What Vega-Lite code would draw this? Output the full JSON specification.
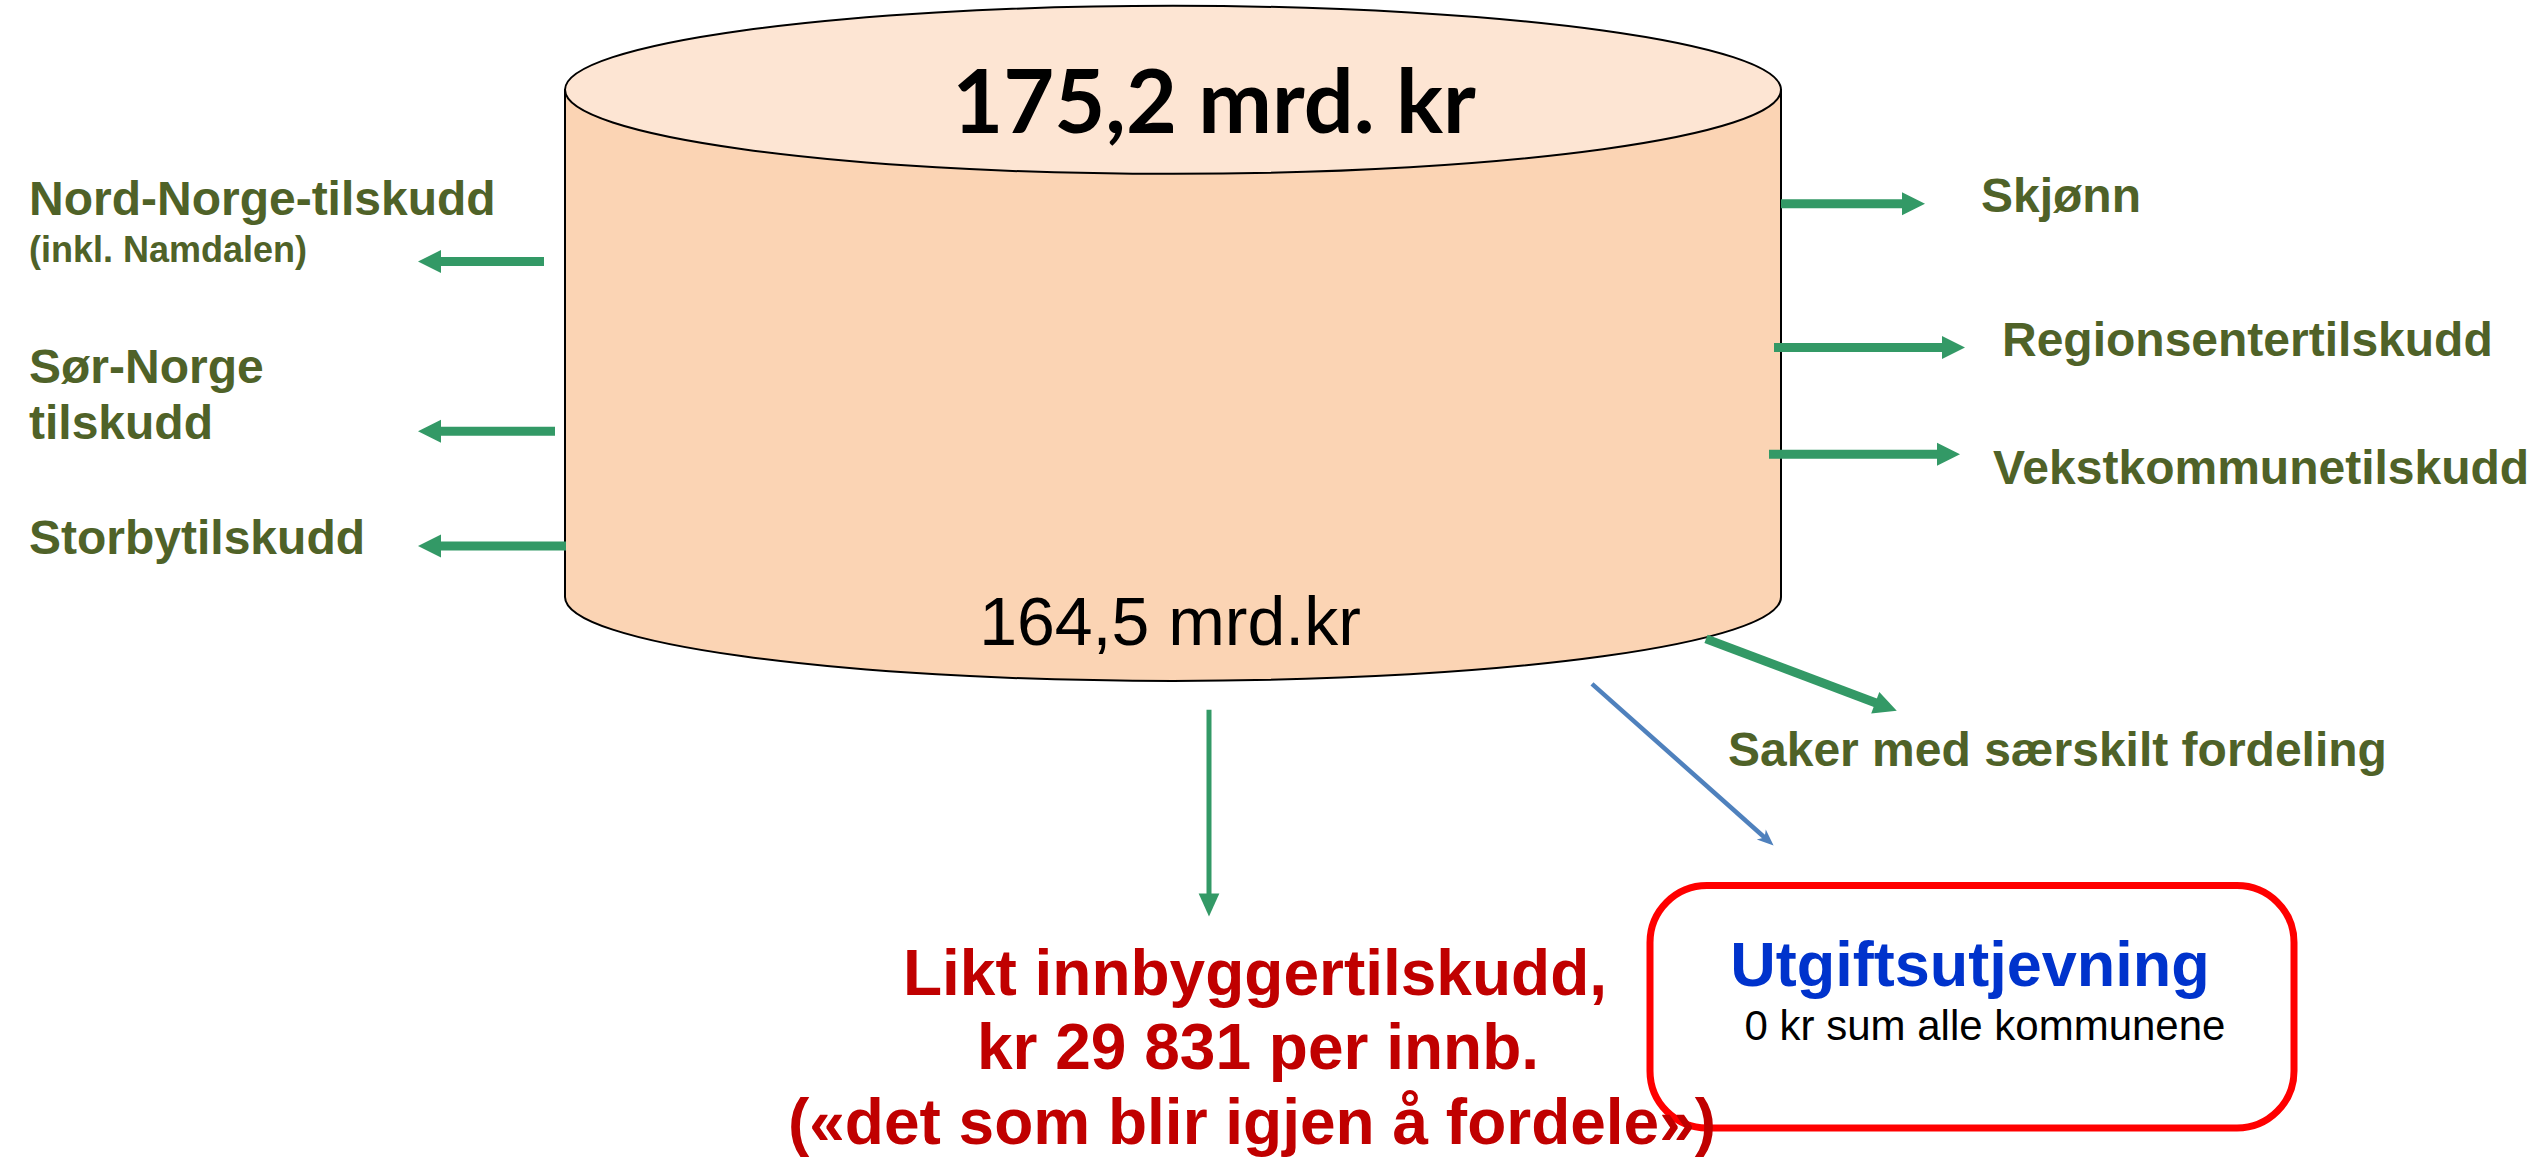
{
  "$schema": "https://vega.github.io/schema/vega-lite/v6.json",
  "width": 2539,
  "height": 1157,
  "autosize": {"type": "fit", "contains": "padding"},
  "padding": 0,
  "background": "white",
  "config": {"view": {"stroke": null}},
  "datasets": {
    "body": [{"x": 1173, "y": 344}],
    "top": [{"x": 1173, "y": 90}],
    "arrowsLeft": [
      {"x": 544, "y": 262, "x2": 429.5, "y2": 262},
      {"x": 555, "y": 432, "x2": 429.5, "y2": 432},
      {"x": 566, "y": 547, "x2": 429.5, "y2": 547}
    ],
    "arrowsRight": [
      {"x": 1781, "y": 204, "x2": 1913.5, "y2": 204},
      {"x": 1774, "y": 348, "x2": 1953.5, "y2": 348},
      {"x": 1769, "y": 455, "x2": 1948.5, "y2": 455}
    ],
    "arrowSaker": [{"x": 1706, "y": 640, "x2": 1886, "y2": 708}],
    "arrowDown": [{"x": 1209, "y": 711, "x2": 1209, "y2": 906.5}],
    "arrowBlue": [{"x": 1592, "y": 685, "x2": 1768, "y2": 842}],
    "box": [{"x": 1650, "y": 887, "x2": 2294, "y2": 1130}],
    "greenLabels": [
      {"x": 29, "y": 215, "label": "Nord-Norge-tilskudd"},
      {"x": 29, "y": 384, "label": "Sør-Norge"},
      {"x": 29, "y": 440, "label": "tilskudd"},
      {"x": 29, "y": 555, "label": "Storbytilskudd"},
      {"x": 1981, "y": 212, "label": "Skjønn"},
      {"x": 2002, "y": 357, "label": "Regionsentertilskudd"},
      {"x": 1993, "y": 485, "label": "Vekstkommunetilskudd"},
      {"x": 1728, "y": 767, "label": "Saker med særskilt fordeling"}
    ],
    "greenSmall": [{"x": 29, "y": 262, "label": "(inkl. Namdalen)"}],
    "redLines": [
      {"x": 1255, "y": 997, "label": "Likt innbyggertilskudd,"},
      {"x": 1258, "y": 1071, "label": "kr 29 831 per innb."},
      {"x": 1252, "y": 1146, "label": "(«det som blir igjen å fordele»)"}
    ],
    "blueTitle": [{"x": 1970, "y": 988, "label": "Utgiftsutjevning"}],
    "blackNote": [{"x": 1985, "y": 1042, "label": "0 kr sum alle kommunene"}],
    "topValue": [{"x": 1214, "y": 133, "label": "175,2 mrd. kr"}],
    "bottomValue": [{"x": 1170, "y": 646, "label": "164,5 mrd.kr"}]
  },
  "encoding": {
    "x": {"field": "x", "type": "quantitative", "scale": {"domain": [0, 2539], "nice": false, "zero": false}, "axis": null},
    "y": {"field": "y", "type": "quantitative", "scale": {"domain": [0, 1157], "nice": false, "zero": false, "reverse": true}, "axis": null}
  },
  "layer": [
    {
      "data": {"name": "body"},
      "mark": {"type": "point", "shape": "M-1,-0.4169L-1,0.4169A1,0.1382 0 0,0 1,0.4169L1,-0.4169Z", "size": 1478656, "filled": true, "fill": "#FBD4B4", "stroke": "#000000", "strokeWidth": 2, "opacity": 1}
    },
    {
      "data": {"name": "top"},
      "mark": {"type": "point", "shape": "M-1,0A1,0.1382 0 1,0 1,0A1,0.1382 0 1,0 -1,0Z", "size": 1478656, "filled": true, "fill": "#FDE5D3", "stroke": "#000000", "strokeWidth": 2, "opacity": 1}
    },
    {
      "data": {"name": "arrowsLeft"},
      "mark": {"type": "rule", "color": "#339966", "strokeWidth": 9, "strokeCap": "butt"},
      "encoding": {"x2": {"field": "x2"}, "y2": {"field": "y2"}}
    },
    {
      "data": {"name": "arrowsLeft"},
      "mark": {"type": "point", "shape": "M1,0L-1,-1L-1,1Z", "size": 529, "angle": 180, "filled": true, "color": "#339966", "opacity": 1},
      "encoding": {"x": {"field": "x2", "type": "quantitative"}, "y": {"field": "y2", "type": "quantitative"}}
    },
    {
      "data": {"name": "arrowsRight"},
      "mark": {"type": "rule", "color": "#339966", "strokeWidth": 9, "strokeCap": "butt"},
      "encoding": {"x2": {"field": "x2"}, "y2": {"field": "y2"}}
    },
    {
      "data": {"name": "arrowsRight"},
      "mark": {"type": "point", "shape": "M1,0L-1,-1L-1,1Z", "size": 529, "angle": 0, "filled": true, "color": "#339966", "opacity": 1},
      "encoding": {"x": {"field": "x2", "type": "quantitative"}, "y": {"field": "y2", "type": "quantitative"}}
    },
    {
      "data": {"name": "arrowSaker"},
      "mark": {"type": "rule", "color": "#339966", "strokeWidth": 9, "strokeCap": "butt"},
      "encoding": {"x2": {"field": "x2"}, "y2": {"field": "y2"}}
    },
    {
      "data": {"name": "arrowSaker"},
      "mark": {"type": "point", "shape": "M1,0L-1,-1L-1,1Z", "size": 529, "angle": 20.7, "filled": true, "color": "#339966", "opacity": 1},
      "encoding": {"x": {"field": "x2", "type": "quantitative"}, "y": {"field": "y2", "type": "quantitative"}}
    },
    {
      "data": {"name": "arrowDown"},
      "mark": {"type": "rule", "color": "#339966", "strokeWidth": 5, "strokeCap": "butt"},
      "encoding": {"x2": {"field": "x2"}, "y2": {"field": "y2"}}
    },
    {
      "data": {"name": "arrowDown"},
      "mark": {"type": "point", "shape": "M1,0L-1,-0.9L-1,0.9Z", "size": 529, "angle": 90, "filled": true, "color": "#339966", "opacity": 1},
      "encoding": {"x": {"field": "x2", "type": "quantitative"}, "y": {"field": "y2", "type": "quantitative"}}
    },
    {
      "data": {"name": "arrowBlue"},
      "mark": {"type": "rule", "color": "#4F81BD", "strokeWidth": 4.5, "strokeCap": "butt"},
      "encoding": {"x2": {"field": "x2"}, "y2": {"field": "y2"}}
    },
    {
      "data": {"name": "arrowBlue"},
      "mark": {"type": "point", "shape": "M1,0L-1.2,-0.9L-0.6,0L-1.2,0.9Z", "size": 225, "angle": 41.8, "filled": true, "color": "#4F81BD", "opacity": 1},
      "encoding": {"x": {"field": "x2", "type": "quantitative"}, "y": {"field": "y2", "type": "quantitative"}}
    },
    {
      "data": {"name": "box"},
      "mark": {"type": "rect", "fill": "transparent", "stroke": "#FF0000", "strokeWidth": 7, "cornerRadius": 57},
      "encoding": {"x2": {"field": "x2"}, "y2": {"field": "y2"}}
    },
    {
      "data": {"name": "greenLabels"},
      "mark": {"type": "text", "align": "left", "baseline": "alphabetic", "font": "Liberation Sans", "fontWeight": "bold", "fontSize": 48, "color": "#4F6228"},
      "encoding": {"text": {"field": "label"}}
    },
    {
      "data": {"name": "greenSmall"},
      "mark": {"type": "text", "align": "left", "baseline": "alphabetic", "font": "Liberation Sans", "fontWeight": "bold", "fontSize": 36, "color": "#4F6228"},
      "encoding": {"text": {"field": "label"}}
    },
    {
      "data": {"name": "redLines"},
      "mark": {"type": "text", "align": "center", "baseline": "alphabetic", "font": "Liberation Sans", "fontWeight": "bold", "fontSize": 64, "color": "#C00000"},
      "encoding": {"text": {"field": "label"}}
    },
    {
      "data": {"name": "blueTitle"},
      "mark": {"type": "text", "align": "center", "baseline": "alphabetic", "font": "Liberation Sans", "fontWeight": "bold", "fontSize": 63, "color": "#0033CC"},
      "encoding": {"text": {"field": "label"}}
    },
    {
      "data": {"name": "blackNote"},
      "mark": {"type": "text", "align": "center", "baseline": "alphabetic", "font": "Liberation Sans", "fontSize": 42, "color": "#000000"},
      "encoding": {"text": {"field": "label"}}
    },
    {
      "data": {"name": "topValue"},
      "mark": {"type": "text", "align": "center", "baseline": "alphabetic", "font": "Lato", "fontWeight": "bold", "fontSize": 88, "color": "#000000"},
      "encoding": {"text": {"field": "label"}}
    },
    {
      "data": {"name": "bottomValue"},
      "mark": {"type": "text", "align": "center", "baseline": "alphabetic", "font": "Liberation Sans", "fontSize": 68, "color": "#000000"},
      "encoding": {"text": {"field": "label"}}
    }
  ]
}
